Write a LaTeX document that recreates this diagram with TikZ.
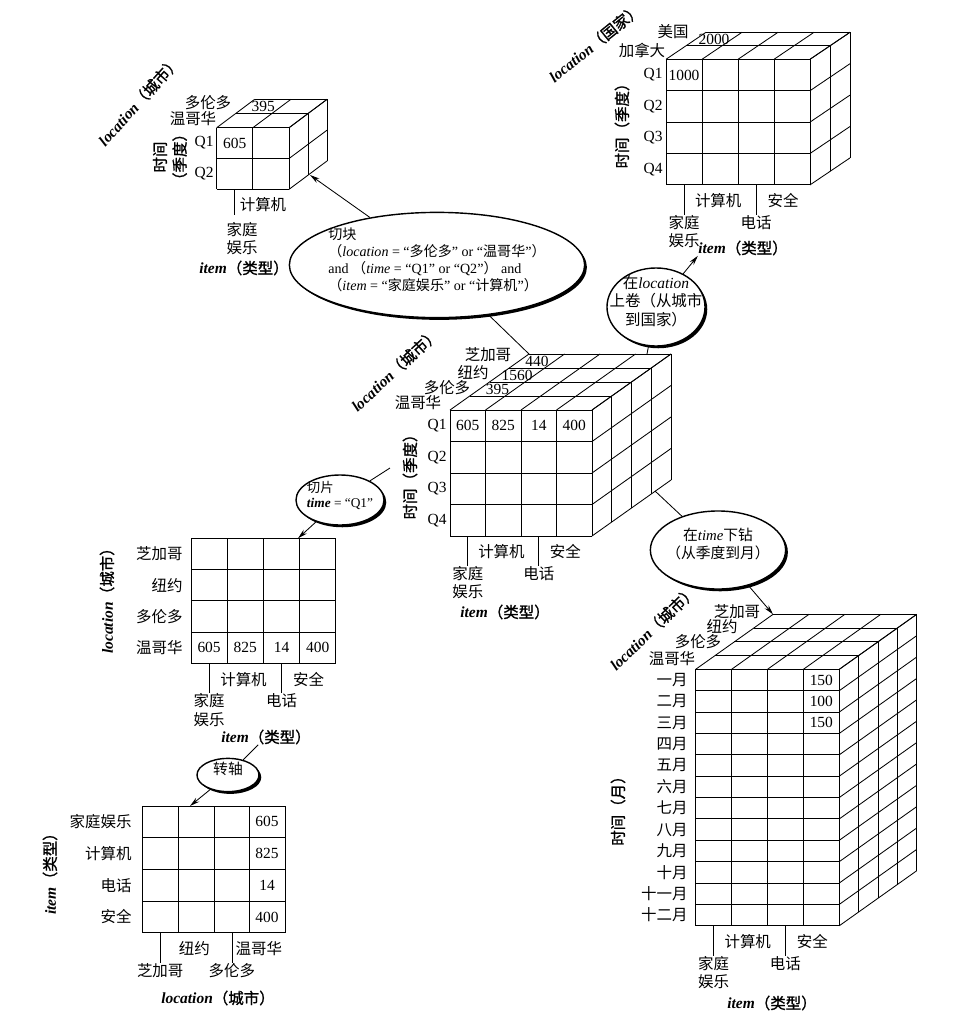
\documentclass[tikz,border=0pt]{standalone}
\usepackage{fontspec}
\setmainfont{Liberation Serif}
\newfontfamily\cjk{Noto Sans CJK SC}
\newfontfamily\cjkb[FakeBold=1.2]{Noto Sans CJK SC}
\usetikzlibrary{shapes.geometric,shadows,arrows.meta}
\newcommand\zh[1]{{\cjk #1}}
\newcommand\axlabel[2]{\textbf{\textit{#1}}{\cjkb #2}}
\newcommand\optext[2][c]{\smash{\makebox[0pt]{\begin{tabular}{@{}#1@{}}#2\end{tabular}}}}
\newcommand\frontgrid[6]{%
  \foreach \i in {0,...,#3} \draw ({#1+\i*#5},{#2}) -- ++(0,{#4*#6});
  \foreach \j in {0,...,#4} \draw ({#1},{#2+\j*#6}) -- ++({#3*#5},0);}
\newcommand\datacube[9]{%
  \frontgrid{#1}{#2}{#3}{#4}{#6}{#7}
  \foreach \i in {0,...,#3} \draw ({#1+\i*#6},{#2}) -- ++({#5*#8},{#5*#9});
  \foreach \k in {1,...,#5} \draw ({#1+\k*#8},{#2+\k*#9}) -- ++({#3*#6},0);
  \foreach \j in {0,...,#4} \draw ({#1+#3*#6},{#2+\j*#7}) -- ++({#5*#8},{#5*#9});
  \foreach \k in {1,...,#5} \draw ({#1+#3*#6+\k*#8},{#2+\k*#9}) -- ++(0,{#4*#7});}
\newcommand\axisticks[8]{%
  \draw ({#2+0.5*#4},{#3}) -- ++(0,30);
  \draw ({#2+2.5*#4},{#3}) -- ++(0,30);
  \node[zh,align=center,anchor=north] (#1-a) at ({#2+0.5*#4},{#3+30}) {#5};
  \node[zh] (#1-b) at ({#2+1.45*#4},{#3+16}) {#6};
  \node[zh,anchor=north] (#1-c) at ({#2+2.5*#4},{#3+30}) {#7};
  \node[zh] (#1-d) at ({#2+3.25*#4},{#3+16}) {#8};}
\begin{document}
\begin{tikzpicture}
		[x=0.025cm,y=-0.025cm,line width=0.6pt,%
		  every node/.style={inner sep=0pt,font=\fontsize{11}{13}\selectfont},
		  zh/.style={font=\fontsize{11}{13}\selectfont\cjk},
		  ax/.style={font=\fontsize{11}{14}\selectfont\cjkb},
		  op/.style={ellipse,draw,line width=1pt,fill=white,
		    drop shadow={shadow xshift=1.6pt,shadow yshift=-1.6pt,fill=black,opacity=1}},
		  arr/.style={-{Stealth[length=7pt,width=3.6pt]}}]
		\useasboundingbox (0,0) rectangle (977,1014);

		\datacube{216.7}{127.7}{2}{2}{2}{36.2}{30.8}{19}{-14.2}
		\node[zh] (A-van) at (193,119) {温哥华};
		\node[zh] (A-tor) at (208,103) {多伦多};
		\node (A-395) at (263.3,106.5) {395};
		\node (A-605) at (234.8,143.1) {605};
		\node[anchor=east] (A-Q1) at (214,143.1) {Q1};
		\node[anchor=east] (A-Q2) at (214,173.9) {Q2};
		\node[ax,rotate=90,align=center] (A-time) at (170,157) {时间\\（季度）};
		\node[rotate=48] (A-loc) at (139,101) {\axlabel{location}{（城市）}};
		\draw (234.8,189.3) -- ++(0,26);
		\node[zh] (A-comp) at (263,205) {计算机};
		\node[zh,align=center,anchor=north] (A-home) at (242,222) {家庭\\娱乐};
		\node (A-item) at (244,268) {\axlabel{item}{（类型）}};

		\datacube{666}{59.3}{4}{4}{2}{36}{31.4}{20}{-13.5}
		\node[zh] (B-can) at (642,50) {加拿大};
		\node[zh] (B-usa) at (673,32) {美国};
		\node (B-2000) at (714,39) {2000};
		\node (B-1000) at (684,75) {1000};
		\foreach \q [count=\j from 0] in {Q1,Q2,Q3,Q4}
		  \node[anchor=east] (B-\q) at (663,{75+\j*31.4}) {\q};
		\node[ax,rotate=90] (B-time) at (622,122) {时间（季度）};
		\node[rotate=39] (B-loc) at (595,43) {\axlabel{location}{（国家）}};
		\axisticks{B}{666}{185}{36}{家庭\\娱乐}{计算机}{电话}{安全}
		\node (B-item) at (743,248) {\axlabel{item}{（类型）}};

		\datacube{450}{410}{4}{4}{4}{35.5}{31.5}{19.75}{-14}
		\node[zh] (C-chi) at (488,355) {芝加哥};
		\node[zh] (C-ny) at (473,373) {纽约};
		\node[zh] (C-tor) at (447,388) {多伦多};
		\node[zh] (C-van) at (418,403) {温哥华};
		\node (C-440) at (536.9,361) {440};
		\node (C-1560) at (517.1,375) {1560};
		\node (C-395) at (497.4,389) {395};
		\foreach \v [count=\i from 0] in {605,825,14,400}
		  \node (C-v\i) at ({467.75+\i*35.5},425.75) {\v};
		\foreach \q [count=\j from 0] in {Q1,Q2,Q3,Q4}
		  \node[anchor=east] (C-\q) at (447,{425.75+\j*31.5}) {\q};
		\node[ax,rotate=90] (C-time) at (410,473) {时间（季度）};
		\node[rotate=43] (C-loc) at (395,370) {\axlabel{location}{（城市）}};
		\axisticks{C}{450}{536}{35.5}{家庭\\娱乐}{计算机}{电话}{安全}
		\node (C-item) at (505,612) {\axlabel{item}{（类型）}};

		\frontgrid{191}{538.3}{4}{4}{36.2}{31.25}
		\foreach \c [count=\j from 0] in {芝加哥,纽约,多伦多,温哥华}
		  \node[zh,anchor=east] (S-r\j) at (183,{553.9+\j*31.25}) {\c};
		\foreach \v [count=\i from 0] in {605,825,14,400}
		  \node (S-v\i) at ({209.1+\i*36.2},647.7) {\v};
		\node[rotate=90] (S-loc) at (107,597) {\axlabel{location}{（城市）}};
		\axisticks{S}{191}{663.3}{36.2}{家庭\\娱乐}{计算机}{电话}{安全}
		\node (S-item) at (266,737) {\axlabel{item}{（类型）}};

		\frontgrid{142.3}{806}{4}{4}{35.85}{31.7}
		\foreach \c [count=\j from 0] in {家庭娱乐,计算机,电话,安全}
		  \node[zh,anchor=east] (P-r\j) at (132,{821.85+\j*31.7}) {\c};
		\foreach \v [count=\j from 0] in {605,825,14,400}
		  \node (P-v\j) at (267,{821.85+\j*31.7}) {\v};
		\node[rotate=90] (P-item) at (50,870) {\axlabel{item}{（类型）}};
		\axisticks{P}{142.3}{932.8}{35.85}{芝加哥}{纽约}{多伦多}{温哥华}
		\node (P-loc) at (218,998) {\axlabel{location}{（城市）}};

		\datacube{695.7}{669.3}{4}{12}{4}{35.9}{21.37}{19.35}{-13.75}
		\node[zh] (D-chi) at (737,612) {芝加哥};
		\node[zh] (D-ny) at (722,627) {纽约};
		\node[zh] (D-tor) at (698,642) {多伦多};
		\node[zh] (D-van) at (672,659) {温哥华};
		\foreach \m [count=\j from 0] in {一月,二月,三月,四月,五月,六月,七月,八月,九月,十月,十一月,十二月}
		  \node[zh,anchor=east] (D-m\j) at (688,{679.99+\j*21.37}) {\m};
		\foreach \v [count=\j from 0] in {150,100,150}
		  \node (D-v\j) at (821.35,{679.99+\j*21.37}) {\v};
		\node[ax,rotate=90] (D-time) at (618,807) {时间（月）};
		\node[rotate=44] (D-loc) at (653,628) {\axlabel{location}{（城市）}};
		\axisticks{D}{695.7}{925.7}{35.9}{家庭\\娱乐}{计算机}{电话}{安全}
		\node (D-item) at (772,1003) {\axlabel{item}{（类型）}};

		\node[op,minimum width=7.38cm,minimum height=2.63cm,font=\fontsize{10}{12}\selectfont]
		  (dice) at (437,265) {\optext[l]{\zh{切块}\\
		  \zh{（}\textit{location} = “\zh{多伦多}” or “\zh{温哥华}”\zh{）}\\
		  and \zh{（}\textit{time} = “Q1” or “Q2”\zh{）} and\\
		  \zh{（}\textit{item} = “\zh{家庭娱乐}” or “\zh{计算机}”\zh{）}}};
		\node[op,minimum width=2.45cm,minimum height=1.95cm]
		  (rollup) at (656,307) {\optext{\zh{在}\textit{location}\\\zh{上卷（从城市}\\\zh{到国家）}}};
		\node[op,minimum width=2.2cm,minimum height=1.25cm,font=\fontsize{9.5}{11}\selectfont]
		  (slice) at (340,500) {\optext[l]{\zh{切片}\\\textbf{\textit{time}} = “Q1”}};
		\node[op,minimum width=1.55cm,minimum height=0.83cm,font=\fontsize{10.5}{12}\selectfont]
		  (pivot) at (228,775) {\optext{\zh{转轴}}};
		\node[op,minimum width=3.38cm,minimum height=1.95cm,font=\fontsize{10.5}{13}\selectfont]
		  (drill) at (718,550) {\optext{\zh{在}\textit{time}\zh{下钻}\\\zh{（从季度到月）}}};

		\coordinate (A-hit) at (310,175);
		\coordinate (C-back) at (529,354);
		\coordinate (C-top) at (647,354);
		\coordinate (C-side) at (390,468);
		\coordinate (C-low) at (655,491);
		\coordinate (S-top) at (298,538.3);
		\coordinate (P-top) at (190,806);
		\coordinate (D-back) at (773,614.3);
		\draw[arr] (dice) -- (A-hit);
		\draw (dice) -- (C-back);
		\draw (rollup) -- (C-top);
		\draw[arr] (rollup) -- (B-item.south west);
		\draw (slice) -- (C-side);
		\draw[arr] (slice) -- (S-top);
		\draw (pivot) -- (S-item);
		\draw[arr] (pivot) -- (P-top);
		\draw (drill) -- (C-low);
		\draw[arr] (drill) -- (D-back);
	\end{tikzpicture}
\end{document}
